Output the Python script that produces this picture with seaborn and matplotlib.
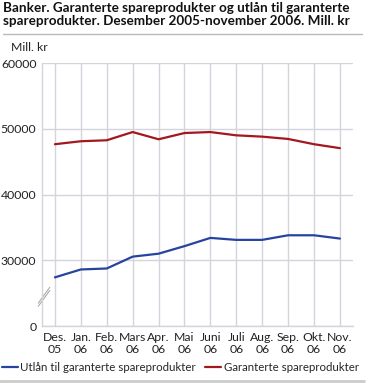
import pandas as pd
import seaborn as sns
import matplotlib.pyplot as plt

months = ['Des.\n05', 'Jan.\n06', 'Feb.\n06', 'Mars\n06', 'Apr.\n06', 'Mai\n06',
          'Juni\n06', 'Juli\n06', 'Aug.\n06', 'Sep.\n06', 'Okt.\n06', 'Nov.\n06']
utlan = [27400, 28600, 28750, 30550, 31000, 32150, 33400, 33100, 33100, 33800, 33800, 33300]
garanterte = [47650, 48100, 48250, 49500, 48400, 49350, 49500, 49000, 48800, 48450, 47650, 47050]
series = ['Utlån til garanterte spareprodukter', 'Garanterte spareprodukter']
colors = ['#2743a0', '#a3181e']
# axis is broken below 30000: the lowest gridline stands for 0
ytick_pos = [20000, 30000, 40000, 50000, 60000]
ytick_lab = ['0', '30000', '40000', '50000', '60000']

df = pd.DataFrame({
    'x': list(range(len(months))) * 2,
    'verdi': utlan + garanterte,
    'serie': [series[0]] * len(months) + [series[1]] * len(months),
})

sns.set_style('white')
plt.rcParams['font.family'] = ['Lato', 'DejaVu Sans']

fig = plt.figure(figsize=(3.73, 3.83), dpi=100)
ax = fig.add_axes([0.1126, 0.1488, 0.8334, 0.6867])

sns.lineplot(data=df, x='x', y='verdi', hue='serie', palette=colors,
             linewidth=1.6, ax=ax, legend=False)

ax.set_xlim(-0.5, 11.5)
ax.set_ylim(20000, 60000)
ax.set_yticks(ytick_pos)
ax.set_yticklabels(ytick_lab)
ax.set_xticks(range(len(months)))
ax.set_xticklabels(months, linespacing=1.15)
ax.set_xlabel('')
ax.set_ylabel('')

grid_c = '#d4d4dc'
ax.grid(True, color=grid_c, linewidth=1)
ax.set_axisbelow(True)
for s in ['top', 'right']:
    ax.spines[s].set_visible(False)
for s in ['left', 'bottom']:
    ax.spines[s].set_color(grid_c)
    ax.spines[s].set_linewidth(1)
ax.tick_params(axis='both', length=0, labelsize=8.8, colors='#222222', pad=4)

# break marks on the y axis
for dy in (0.0, 0.012):
    ax.plot([-0.012, 0.025], [0.075 + dy, 0.135 + dy], transform=ax.transAxes,
            color='#aaaaaa', linewidth=0.8, clip_on=False)

fig.text(0.008, 0.995, 'Banker. Garanterte spareprodukter og utlån til garanterte\n'
         'spareprodukter. Desember 2005-november 2006. Mill. kr',
         ha='left', va='top', fontsize=9.7, fontweight='bold', color='#111111',
         linespacing=1.12)
fig.add_artist(plt.Line2D([0.008, 0.97], [0.912, 0.912], color='#bbbbbb', linewidth=1))
fig.text(0.03, 0.875, 'Mill. kr', ha='left', va='center', fontsize=8.8, color='#222222')

handles = [plt.Line2D([], [], color=c, linewidth=1.6) for c in colors]
fig.legend(handles, series, loc='center left', bbox_to_anchor=(0.005, 0.04), ncol=2,
           frameon=False, fontsize=8.3, handlelength=1.4, handletextpad=0.2,
           columnspacing=0.8, borderaxespad=0, borderpad=0)
fig.add_artist(plt.Line2D([0.0, 0.975], [0.005, 0.005], color='#cccccc', linewidth=2))

fig.savefig('out.png', dpi=100)
